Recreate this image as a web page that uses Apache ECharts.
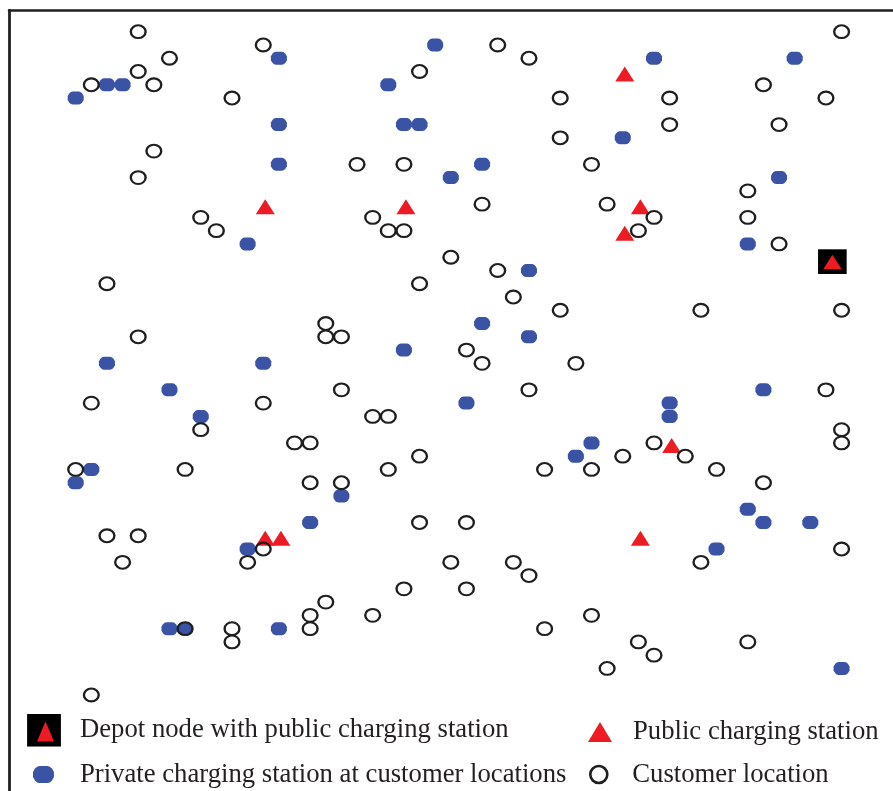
<!DOCTYPE html>
<html>
<head>
<meta charset="utf-8">
<script src="https://cdn.jsdelivr.net/npm/echarts@6/dist/echarts.min.js"></script>
<style>
html,body{margin:0;padding:0;background:#fff;}
#c{width:893px;height:791px;}
</style>
</head>
<body>
<div id="c"></div>
<script>
// Grid coordinates (x to the right, y upward)
const customerPoints = [
  [4,50],[49,50],[12,49],[27,49],[6,48],[29,48],[4,47],[22,47],
  [1,46],[5,46],[44,46],[10,45],[31,45],[38,45],[48,45],[38,43],[45,43],
  [31,42],[5,41],[18,40],[21,40],[33,40],[4,39],[43,38],[26,37],[34,37],
  [8,36],[19,36],[37,36],[43,36],[9,35],[20,35],[21,35],[36,35],[45,34],
  [24,33],[27,32],[2,31],[22,31],[28,30],[31,29],[40,29],[49,29],[16,28],
  [4,27],[16,27],[17,27],[25,26],[26,25],[32,25],[17,23],[29,23],[48,23],
  [1,22],[12,22],[19,21],[20,21],[8,20],[49,20],[14,19],[15,19],[37,19],[49,19],
  [22,18],[35,18],[39,18],[0,17],[7,17],[20,17],[30,17],[33,17],[41,17],
  [15,16],[17,16],[44,16],[22,13],[25,13],[2,12],[4,12],[12,11],[49,11],
  [3,10],[11,10],[24,10],[28,10],[40,10],[29,9],[21,8],[25,8],[16,7],
  [15,6],[19,6],[33,6],[7,5],[10,5],[15,5],[30,5],[10,4],[36,4],[43,4],
  [37,3],[34,2],[1,0]
];
const privatePoints = [
  [23,49],[13,48],[37,48],[46,48],[2,46],[3,46],[20,46],[0,45],
  [13,43],[21,43],[22,43],[35,42],[13,40],[26,40],[24,39],[45,39],
  [11,34],[43,34],[29,32],[26,28],[29,27],[21,26],[2,25],[12,25],
  [6,23],[44,23],[25,22],[38,22],[8,21],[38,21],[33,19],[32,18],
  [1,17],[0,16],[17,15],[43,14],[15,13],[44,13],[47,13],[11,11],[41,11],
  [6,5],[7,5],[13,5],[49,2]
];
const publicPoints = [
  [35,47],[12,37],[21,37],[36,37],[35,35],[38,19],[12,12],[13,12],[36,12]
];
const depotPoints = [[48.4,32.65]];

const seriesNames = [
  'Depot node with public charging station',
  'Public charging station',
  'Private charging station at customer locations',
  'Customer location'
];

const RED = '#ed1c24', BLUE = '#3a53a4', INK = '#1e1e1e', FRAME = '#231f20';
// rounded octagon shape for private charging stations
const OCT = 'path://M5,0 L11,0 Q13,0 14.5,2 L16,4.5 L16,8.5 L14.5,11 Q13,13 11,13 L5,13 Q3,13 1.5,11 L0,8.5 L0,4.5 L1.5,2 Q3,0 5,0 Z';

function svgIcon(w, h, tri) {
  const svg = '<svg xmlns="http://www.w3.org/2000/svg" width="' + w + '" height="' + h +
    '" viewBox="0 0 ' + w + ' ' + h + '"><rect x="0" y="0" width="' + w + '" height="' + h +
    '" fill="#000" stroke="#333" stroke-width="1"/><polygon points="' + tri + '" fill="' + RED + '"/></svg>';
  return 'image://data:image/svg+xml;charset=utf-8,' + encodeURIComponent(svg);
}
const depotPlotIcon = svgIcon(29, 25, '5.5,20 24,20 14.75,5.5');
const depotLegendIcon = svgIcon(34, 33, '10,28 27,28 18.5,8');

const chart = echarts.init(document.getElementById('c'), null, {renderer: 'canvas'});

function legendFor(name, left, top, w, h, icon, padLeft, itemStyle) {
  const d = {name: name, icon: icon};
  if (itemStyle) d.itemStyle = itemStyle;
  return {
    data: [d], left: left, top: top, padding: 0, orient: 'horizontal',
    itemWidth: w, itemHeight: h, selectedMode: false,
    textStyle: {fontFamily: 'Liberation Serif', fontSize: 26.7, color: FRAME, lineHeight: 28, padding: [0,0,0,padLeft]}
  };
}

const option = {
  animation: false,
  backgroundColor: '#fff',
  grid: {left: 9, right: 0, top: 10.5, bottom: 0, containLabel: false, outerBoundsMode: 'none'},
  xAxis: {
    type: 'value', position: 'top', min: -4.267, max: 52.29,
    axisLine: {show: true, onZero: false, lineStyle: {color: FRAME, width: 2.5}},
    axisTick: {show: false}, axisLabel: {show: false}, splitLine: {show: false}
  },
  yAxis: {
    type: 'value', min: -7.24, max: 51.598,
    axisLine: {show: true, onZero: false, lineStyle: {color: FRAME, width: 2.8}},
    axisTick: {show: false}, axisLabel: {show: false}, splitLine: {show: false}
  },
  legend: [
    legendFor(seriesNames[0], 27, 713.5, 34, 33, depotLegendIcon, 14),
    legendFor(seriesNames[2], 33, 760.5, 21, 17, OCT, 21, {color: BLUE, opacity: 1}),
    legendFor(seriesNames[1], 588, 718, 24, 20, 'triangle', 16, {color: RED, opacity: 1}),
    legendFor(seriesNames[3], 589, 760.5, 19, 17, 'circle', 19,
      {color: 'rgba(0,0,0,0)', borderColor: INK, borderWidth: 2.6, opacity: 1})
  ],
  series: [
    {
      name: seriesNames[2], type: 'scatter', data: privatePoints, z: 2,
      symbol: OCT, symbolSize: [16, 13],
      itemStyle: {color: BLUE, opacity: 1}
    },
    {
      name: seriesNames[1], type: 'scatter', data: publicPoints, z: 3,
      symbol: 'triangle', symbolSize: [19, 15], symbolOffset: [2, 2.5],
      itemStyle: {color: RED, opacity: 1}
    },
    {
      name: seriesNames[3], type: 'scatter', data: customerPoints, z: 4,
      symbol: 'circle', symbolSize: [14.8, 12.8],
      itemStyle: {color: 'rgba(0,0,0,0)', borderColor: INK, borderWidth: 2.2, opacity: 1}
    },
    {
      name: seriesNames[0], type: 'scatter', data: depotPoints, z: 5,
      symbol: depotPlotIcon, symbolSize: [29, 25],
      itemStyle: {color: '#000', opacity: 1}
    }
  ]
};
chart.setOption(option);
</script>
</body>
</html>
